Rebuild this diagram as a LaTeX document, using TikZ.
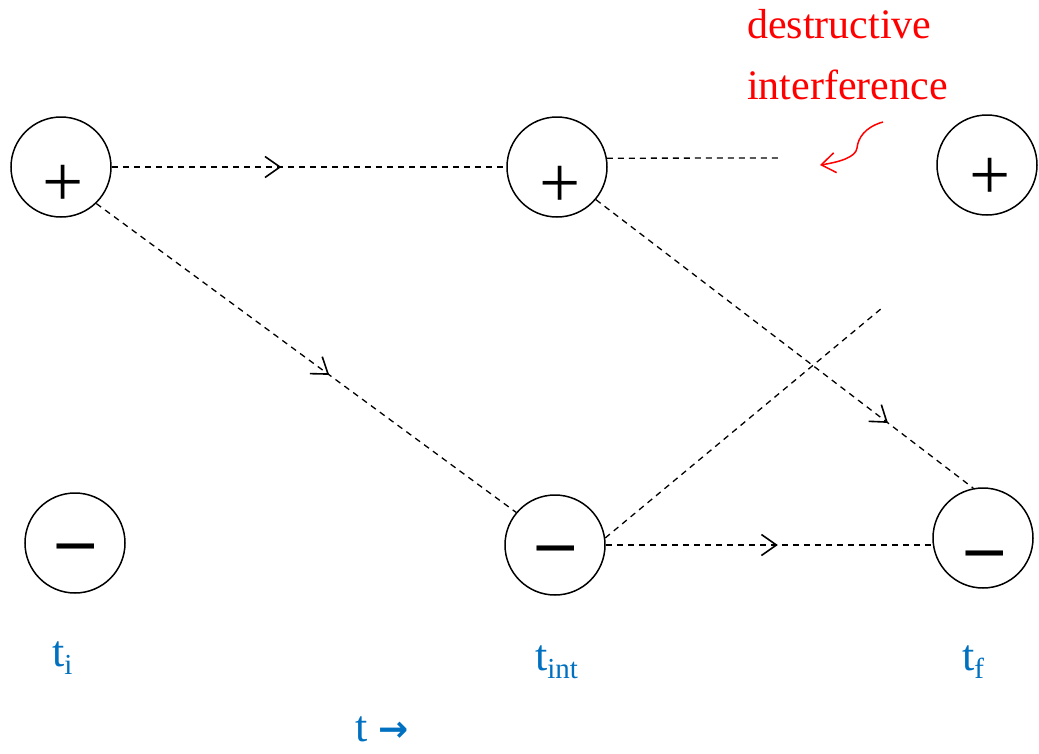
\documentclass[tikz,border=0pt]{standalone}
\usepackage{fontspec}
\setmainfont{Liberation Serif}
\newfontfamily\arrfont{DejaVu Sans}
\usetikzlibrary{arrows.meta,decorations.markings,calc}
\definecolor{tblue}{RGB}{0,112,192}
\newcommand\lowsub[1]{\raisebox{-8pt}{\fontsize{29}{29}\selectfont #1}}
\begin{document}
\begin{tikzpicture}[x=1pt,y=-1pt,
  circ/.style={draw,circle,line width=1.5pt,minimum size=100pt,inner sep=0},
  sign/.style={font=\fontsize{73}{73}\selectfont,inner sep=0},
  dline/.style={line width=1.3pt,dash pattern=on 6pt off 5pt},
  midarrow/.style={postaction={decorate},decoration={markings,mark=at position #1 with {\arrow{Straight Barb[length=15pt,width=21pt,line width=1.6pt]}}}},
  tlab/.style={text=tblue,font=\fontsize{44}{44}\selectfont,inner sep=0,anchor=base west},
]
\useasboundingbox (0,0) rectangle (1039,753);
% states
\node[circ] (p1) at (61,167) {};
\node[circ] (p2) at (557,167) {};
\node[circ] (p3) at (987,165) {};
\node[circ] (m1) at (75,543) {};
\node[circ] (m2) at (555,545) {};
\node[circ] (m3) at (983,538) {};
\node[sign] (sp1) at (63,186) {+};
\node[sign] (sp2) at (560,187) {+};
\node[sign] (sp3) at (990,179) {+};
\node[sign] (sm1) at (76,554) {\textbf{–}};
\node[sign] (sm2) at (556,556) {\textbf{–}};
\node[sign] (sm3) at (985,561) {\textbf{–}};
% paths
\coordinate (e1) at (780,158);
\coordinate (e2) at (882,308);
\draw[dline,midarrow=0.43] (p1.east) -- (p2.west);
\draw[dline,midarrow=0.555] (p1.-46) -- (m2.140);
\draw[dline] (p2.10) -- (e1);
\draw[dline,midarrow=0.774] (p2.-40) -- (m3.101);
\draw[dline] (m2.8) -- (e2);
\draw[dline,midarrow=0.527] (m2.east) -- (m2.east -| m3.west);
% annotation
\node[red,font=\fontsize{42}{61}\selectfont,align=left,anchor=base west,inner sep=0] (dtext) at (747,99) {destructive\\interference};
\coordinate (r0) at (883,122);
\coordinate (r1) at (820,165);
\draw[red,line width=1.5pt,-{Straight Barb[length=14pt,width=20pt]}] (r0) .. controls (865,127) and (858,138) .. (857,148) .. controls (856,157) and (840,162) .. (r1);
% time labels
\node[tlab] (ti) at (52,666) {t\lowsub{i}};
\node[tlab] (tint) at (535,670) {t\lowsub{int}};
\node[tlab] (tf) at (962,670) {t\lowsub{f}};
\node[tlab,text depth=0pt] (tarr) at (355,741) {t {\arrfont\bfseries\fontsize{36}{36}\selectfont →}};
\end{tikzpicture}
\end{document}
